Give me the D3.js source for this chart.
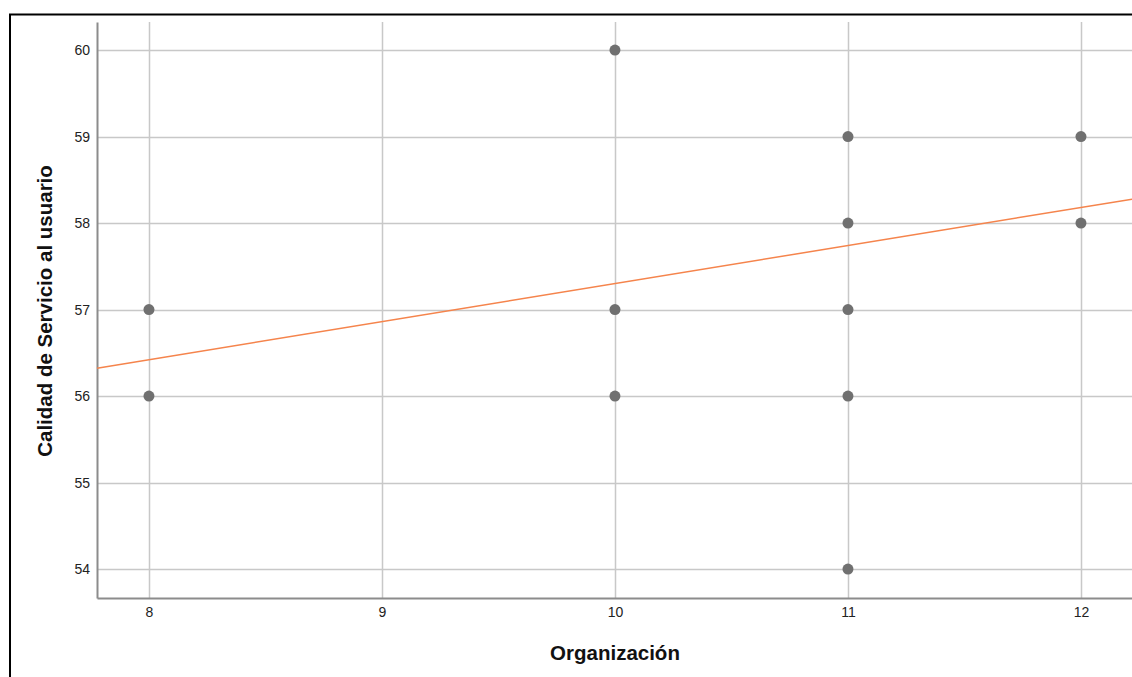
<!DOCTYPE html>
<html><head><meta charset="utf-8">
<script src="https://cdn.jsdelivr.net/npm/d3@7"></script>
<style>body{margin:0;background:#fff}svg{display:block}</style>
</head><body>
<svg id="c" width="1132" height="677"></svg>
<script>
const xTicks = [8, 9, 10, 11, 12];
const yTicks = [54, 55, 56, 57, 58, 59, 60];
const xValues = [8, 8, 10, 10, 10, 11, 11, 11, 11, 11, 12, 12];
const yValues = [57, 56, 60, 57, 56, 59, 58, 57, 56, 54, 59, 58];
const fitX = [8, 12];
const fitY = [56.42, 58.18];
const xTitle = "Organización";
const yTitle = "Calidad de Servicio al usuario";

const svg = d3.select("#c");
const L = 97, R = 1132, T = 22, B = 598;
const x = d3.scaleLinear().domain([7.777, 12.219]).range([L, R]);
const y = d3.scaleLinear().domain([53.665, 60.324]).range([B, T]);
const font = "Liberation Sans, Arial, sans-serif";

// frame
svg.append("path").attr("d", `M10,1000V14.5H1132`).attr("fill", "none").attr("stroke", "#000").attr("stroke-width", 2);

// grid
const g = svg.append("g");
g.selectAll(".gx").data(xTicks).join("line")
  .attr("x1", d => Math.round(x(d)) + 0.5).attr("x2", d => Math.round(x(d)) + 0.5)
  .attr("y1", T).attr("y2", B).attr("stroke", "#c8c8c8").attr("stroke-width", 1.5);
g.selectAll(".gy").data(yTicks).join("line")
  .attr("y1", d => Math.round(y(d)) + 0.5).attr("y2", d => Math.round(y(d)) + 0.5)
  .attr("x1", L).attr("x2", R).attr("stroke", "#c8c8c8").attr("stroke-width", 1.5);

// axes
const xa = svg.append("g").attr("transform", `translate(0,${B})`)
  .call(d3.axisBottom(x).tickValues(xTicks).tickSize(0).tickPadding(9).tickFormat(d3.format("d")));
const ya = svg.append("g").attr("transform", `translate(${L},0)`)
  .call(d3.axisLeft(y).tickValues(yTicks).tickSize(0).tickPadding(7).tickFormat(d3.format("d")));
[xa, ya].forEach(a => {
  a.select(".domain").attr("stroke", "#8c8c8c").attr("stroke-width", 2);
  a.selectAll("text").attr("font-family", font).attr("font-size", 14).attr("fill", "#222");
});

// fit line
const fy = v => fitY[0] + (v - fitX[0]) * (fitY[1] - fitY[0]) / (fitX[1] - fitX[0]);
svg.append("line")
  .attr("x1", x(7.777)).attr("y1", y(fy(7.777)))
  .attr("x2", x(12.219)).attr("y2", y(fy(12.219)))
  .attr("stroke", "#f5844c").attr("stroke-width", 1.5);

// points
svg.selectAll("circle").data(xValues.map((d, i) => [d, yValues[i]])).join("circle")
  .attr("cx", d => x(d[0])).attr("cy", d => y(d[1])).attr("r", 5.5).attr("fill", "#707070");

// titles
svg.append("text").attr("x", 615).attr("y", 660).attr("text-anchor", "middle")
  .attr("font-family", font).attr("font-weight", "bold").attr("font-size", 20.5)
  .attr("fill", "#111").text(xTitle);
svg.append("text").attr("transform", "translate(52,311) rotate(-90)").attr("text-anchor", "middle")
  .attr("font-family", font).attr("font-weight", "bold").attr("font-size", 20.5)
  .attr("fill", "#111").text(yTitle);
</script>
</body></html>
